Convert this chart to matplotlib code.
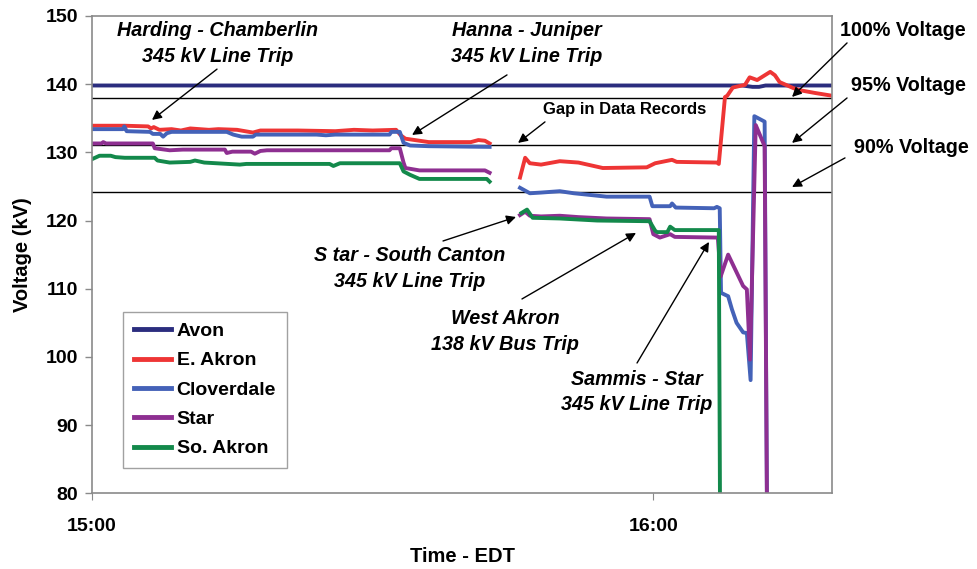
import numpy as np
import matplotlib
matplotlib.use("Agg")
import matplotlib.pyplot as plt

plt.rcParams['font.family'] = ['Liberation Sans', 'DejaVu Sans']
plt.rcParams['font.weight'] = 'bold'

nan = np.nan

# minutes after 15:00 EDT, voltage in kV (nan = gap in data records)
avon_t = [0, 69.5, 70.6, 71.3, 72.0, 79.1]
avon_v = [139.8, 139.8, 139.6, 139.6, 139.8, 139.8]

eakron_t = [0, 3.5, 6.0, 6.3, 6.6, 7.2, 8.5, 9.5, 10.5, 12.5, 13.5, 15.5, 17.2, 18.0,
            22.0, 26.0, 28.0, 30.0, 32.5, 33.0, 33.5, 34.5, 36.0, 40.5, 41.3, 42.0, 42.5,
            44.0,
            45.75, 46.3, 46.8, 48.0, 50.0, 52.0, 54.6, 59.3, 60.2, 62.0, 62.5, 66.8, 67.0,
            67.66, 67.9, 68.5, 69.8, 70.3, 71.1, 72.5, 73.0, 73.5, 75.0, 75.7, 77.3, 79.1]
eakron_v = [133.9, 133.9, 133.8, 133.5, 133.7, 133.3, 133.4, 133.2, 133.5, 133.3, 133.4, 133.3, 132.9, 133.2,
            133.2, 133.1, 133.3, 133.2, 133.3, 132.5, 132.0, 131.8, 131.5, 131.5, 131.8, 131.7, 131.3,
            nan,
            126.3, 129.2, 128.4, 128.2, 128.7, 128.5, 127.7, 127.8, 128.4, 128.9, 128.6, 128.5, 128.3,
            138.1, 138.3, 139.5, 139.9, 141.0, 140.6, 141.8, 141.3, 140.3, 139.4, 139.1, 138.7, 138.3]

clover_t = [0, 3.3, 3.45, 3.7, 6.2, 6.5, 7.3, 7.6, 8.0, 8.5, 14.4, 15.1, 16.0, 17.2, 17.5,
            24.0, 25.0, 26.0, 31.8, 32.0, 32.9, 33.3, 34.0, 36.0, 42.5,
            44.0,
            45.75, 46.8, 48.0, 50.0, 51.5, 55.0, 59.6, 59.9, 61.8, 62.0, 62.4, 66.5, 66.8, 67.1,
            67.24, 68.0, 68.4, 68.9, 69.6, 70.0, 70.4, 70.8, 71.9, 72.15]
clover_v = [133.4, 133.4, 133.8, 133.1, 133.0, 132.7, 132.7, 132.3, 132.8, 133.0, 133.0, 132.6, 132.3, 132.3, 132.6,
            132.6, 132.5, 132.6, 132.6, 133.0, 133.0, 131.4, 131.0, 130.9, 130.8,
            nan,
            124.8, 124.0, 124.1, 124.3, 124.0, 123.5, 123.5, 122.1, 122.1, 122.5, 121.9, 121.8, 122.0, 121.8,
            109.4, 108.9, 107.0, 105.0, 103.6, 103.5, 96.6, 135.3, 134.5, 78.0]

star_t = [0, 1.0, 1.2, 1.5, 6.5, 6.7, 8.3, 9.7, 14.2, 14.4, 15.0, 17.0, 17.4, 18.0, 18.7,
          31.8, 32.0, 32.9, 33.3, 33.5, 35.0, 42.0, 42.5,
          44.0,
          45.75, 46.3, 46.8, 48.0, 50.0, 52.0, 55.0, 59.6, 60.0, 60.7, 61.8, 62.3, 66.9,
          67.2, 68.0, 69.6, 70.0, 70.34, 70.95, 71.9, 72.15]
star_v = [131.3, 131.3, 131.5, 131.3, 131.3, 130.6, 130.3, 130.4, 130.4, 129.9, 130.1, 130.1, 129.8, 130.2, 130.3,
          130.3, 130.6, 130.6, 128.5, 127.7, 127.35, 127.35, 127.0,
          nan,
          120.8, 121.3, 120.7, 120.6, 120.7, 120.5, 120.3, 120.2, 118.0, 117.5, 118.0, 117.6, 117.5,
          111.8, 115.0, 110.4, 109.9, 99.6, 134.0, 130.9, 78.0]

soakron_t = [0, 0.8, 2.0, 2.5, 3.5, 6.7, 7.0, 8.3, 10.5, 11.0, 12.0, 15.8, 16.5, 25.4, 25.8,
             26.5, 32.9, 33.3, 34.0, 35.0, 42.2, 42.5,
             44.0,
             45.9, 46.5, 47.1, 50.0, 54.0, 59.6, 60.2, 60.4, 61.5, 61.8, 62.3, 67.0, 67.13]
soakron_v = [129.0, 129.5, 129.5, 129.3, 129.2, 129.2, 128.8, 128.5, 128.6, 128.8, 128.5, 128.2, 128.3, 128.3, 128.0,
             128.4, 128.4, 127.2, 126.7, 126.1, 126.1, 125.7,
             nan,
             121.1, 121.6, 120.4, 120.3, 120.0, 119.9, 118.5, 118.3, 118.3, 119.1, 118.6, 118.6, 78.0]

names = ['Avon', 'E. Akron', 'Cloverdale', 'Star', 'So. Akron']
colors = ['#2b2d7e', '#ee3535', '#4462b8', '#8e2f91', '#13894b']

# 100 %, 95 % and 90 % of 138 kV
ref_levels = [138.0, 131.1, 124.2]

fig = plt.figure(figsize=(9.78, 5.69), dpi=100)
ax = fig.add_axes([0.0941, 0.133, 0.7566, 0.839])

for lvl in ref_levels:
    ax.axhline(lvl, color='black', lw=1.0, zorder=1.5)

series = [(avon_t, avon_v), (eakron_t, eakron_v), (clover_t, clover_v),
          (star_t, star_v), (soakron_t, soakron_v)]
for (t, v), name, c in zip(series, names, colors):
    ax.plot(t, v, color=c, lw=2.8, label=name, solid_joinstyle='round', zorder=2)

ax.set_xlim(0, 79.1)
ax.set_ylim(80, 150)
ax.set_yticks([80, 90, 100, 110, 120, 130, 140, 150])
ax.set_xticks([0, 60])
ax.set_xticklabels(['15:00', '16:00'])

for s in ax.spines.values():
    s.set_color('#8a8a8a')
    s.set_linewidth(1.2)
ax.tick_params(axis='y', length=5, width=1, color='#8a8a8a', pad=5, labelsize=14)
ax.tick_params(axis='x', length=5, width=0.8, color='#8a8a8a', pad=13, labelsize=14)
for lab in ax.get_xticklabels() + ax.get_yticklabels():
    lab.set_fontweight('bold')

fig.text(0.0235, 0.552, 'Voltage (kV)', rotation=90, ha='center', va='center',
         fontsize=14.5, fontweight='bold')
fig.text(0.4724, 0.0225, 'Time - EDT', ha='center', va='center', fontsize=14.5, fontweight='bold')

leg = ax.legend(loc='upper left', bbox_to_anchor=(0.042, 0.38), frameon=True, fancybox=False,
                borderaxespad=0, handlelength=1.9, handletextpad=0.3, labelspacing=0.6,
                borderpad=0.55, prop={'size': 14, 'weight': 'bold'})
leg.get_frame().set_edgecolor('#8a8a8a')
leg.get_frame().set_linewidth(1.0)
for h in leg.get_lines():
    h.set_linewidth(3.5)

arrow = dict(arrowstyle='-|>', color='black', lw=1.0, mutation_scale=14, shrinkA=0, shrinkB=0)
italic = dict(fontsize=14.2, fontweight='bold', fontstyle='italic', ha='center', va='center',
              linespacing=1.45)
plain = dict(fontsize=14.2, fontweight='bold', ha='center', va='center')

notes = [
    ('Harding - Chamberlin\n345 kV Line Trip', (13.47, 146.0), (13.36, 142.2), (6.41, 134.75)),
    ('Hanna - Juniper\n345 kV Line Trip', (46.5, 146.0), (44.36, 141.35), (34.21, 132.55)),
    ('S tar - South Canton\n345 kV Line Trip', (33.99, 113.0), (37.52, 117.0), (45.32, 120.52)),
    ('West Akron\n138 kV Bus Trip', (44.15, 103.7), (45.96, 108.5), (58.15, 118.18)),
    ('Sammis - Star\n345 kV Line Trip', (58.26, 94.85), (58.26, 99.11), (65.95, 116.86)),
]
for txt, pos, tail, tip in notes:
    ax.text(pos[0], pos[1], txt, **italic)
    ax.annotate('', xy=tip, xytext=tail, arrowprops=arrow)

ax.text(56.98, 136.22, 'Gap in Data Records', fontsize=12, fontweight='bold', ha='center', va='center')
ax.annotate('', xy=(45.54, 131.38), xytext=(48.42, 134.46), arrowprops=arrow)

levels = [
    ('100% Voltage', (86.69, 147.8), (80.71, 146.04), (74.83, 138.12)),
    ('95% Voltage', (87.23, 139.8), (80.71, 137.97), (74.83, 131.38)),
    ('90% Voltage', (87.55, 130.7), (80.49, 129.18), (74.83, 124.92)),
]
for txt, pos, tail, tip in levels:
    ax.text(pos[0], pos[1], txt, clip_on=False, **plain)
    ax.annotate('', xy=tip, xytext=tail, arrowprops=arrow, annotation_clip=False)

fig.savefig('out.png', dpi=100)
